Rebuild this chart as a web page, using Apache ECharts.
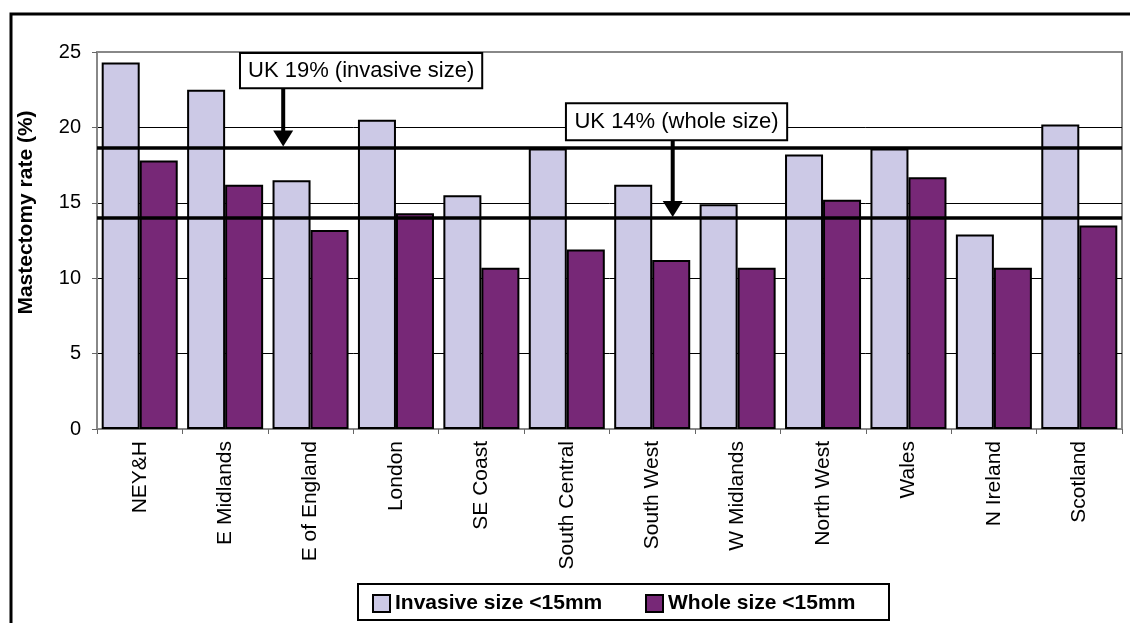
<!DOCTYPE html>
<html>
<head>
<meta charset="utf-8">
<script src="https://cdn.jsdelivr.net/npm/echarts@6/dist/echarts.min.js"></script>
<style>
html,body{margin:0;padding:0;background:#fff;}
#chart{width:1130px;height:623px;}
</style>
</head>
<body>
<div id="chart"></div>
<script>
const categories = ['NEY&H','E Midlands','E of England','London','SE Coast','South Central','South West','W Midlands','North West','Wales','N Ireland','Scotland'];
const invasiveSize = [24.3,22.5,16.5,20.5,15.5,18.6,16.2,14.9,18.2,18.6,12.9,20.2];
const wholeSize = [17.8,16.2,13.2,14.3,10.7,11.9,11.2,10.7,15.2,16.7,10.7,13.5];
const seriesNames = ['Invasive size <15mm','Whole size <15mm'];
const ukInvasive = 18.67;
const ukWhole = 14.0;
const annotations = ['UK 19% (invasive size)','UK 14% (whole size)'];
const yTicks = [0,5,10,15,20,25];

const FONT = 'Liberation Sans, Arial, sans-serif';
const chart = echarts.init(document.getElementById('chart'), null, {renderer:'canvas'});

function legendAt(left, name){
  return {
    left:left, top:593, padding:0,
    itemWidth:17, itemHeight:17, itemGap:4,
    icon:'rect', data:[name],
    textStyle:{fontFamily:FONT,fontSize:21,fontWeight:'bold',color:'#000'}
  };
}

const option = {
  animation:false,
  backgroundColor:'#fff',
  grid:{left:97,right:8,top:52,bottom:194,show:true,borderColor:'#888',borderWidth:2,backgroundColor:'transparent'},
  legend:[legendAt(372, seriesNames[0]), legendAt(645, seriesNames[1])],
  xAxis:{
    type:'category',
    data:categories,
    axisLine:{lineStyle:{color:'#888',width:1}},
    axisTick:{show:true,length:5,lineStyle:{color:'#666'}},
    axisLabel:{rotate:90,margin:12,fontFamily:FONT,fontSize:21,color:'#000'}
  },
  yAxis:{
    type:'value',
    min:0,max:25,interval:5,
    name:'Mastectomy rate (%)',
    nameLocation:'middle',
    nameGap:60,
    nameTextStyle:{fontFamily:FONT,fontSize:21,fontWeight:'bold',color:'#000',padding:[0,0,0,56]},
    axisLine:{show:true,lineStyle:{color:'#888',width:1}},
    axisTick:{show:true,length:5,lineStyle:{color:'#666'}},
    axisLabel:{fontFamily:FONT,fontSize:20,color:'#000',margin:16,
      formatter:function(v){return yTicks.indexOf(v)>=0?String(v):'';}},
    splitLine:{show:true,showMinLine:false,showMaxLine:false,lineStyle:{color:'#000',width:1}}
  },
  series:[
    {
      name:seriesNames[0], type:'bar', data:invasiveSize,
      barGap:'0%', barCategoryGap:'11%',
      itemStyle:{color:'#CCC9E6',borderColor:'#000',borderWidth:2}
    },
    {
      name:seriesNames[1], type:'bar', data:wholeSize,
      barGap:'0%', barCategoryGap:'11%',
      itemStyle:{color:'#772877',borderColor:'#000',borderWidth:2},
      markLine:{
        silent:true, symbol:['none','none'],
        label:{show:false},
        lineStyle:{color:'#000',width:3.5,type:'solid'},
        data:[{yAxis:ukInvasive},{yAxis:ukWhole}]
      }
    }
  ]
};
chart.setOption(option);

// annotation boxes and arrows positioned through the chart's own scales
function px(catFrac, val){
  const rect = chart.getModel().getComponent('grid').coordinateSystem.getRect();
  const x = rect.x + rect.width * catFrac / categories.length;
  const y = chart.convertToPixel({yAxisIndex:0}, val);
  return [x,y];
}
function arrow(x, y0, y1){
  return [
    {type:'line',shape:{x1:x,y1:y0,x2:x,y2:y1-14},style:{stroke:'#000',lineWidth:4},z:100},
    {type:'polygon',shape:{points:[[x-10,y1-16],[x+10,y1-16],[x,y1]]},style:{fill:'#000'},z:100}
  ];
}
function box(x1,y1,x2,y2,text){
  return [
    {type:'rect',shape:{x:x1,y:y1,width:x2-x1,height:y2-y1},style:{fill:'#fff',stroke:'#000',lineWidth:2},z:100},
    {type:'text',x:(x1+x2)/2,y:(y1+y2)/2,style:{text:text,font:'22px '+FONT,fill:'#000',align:'center',verticalAlign:'middle'},z:101}
  ];
}
const a1 = px(2.18, ukInvasive);
const a2 = px(6.74, ukWhole);
const b1 = [px(1.674,24.93), px(4.51,22.6)];
const b2 = [px(5.49,21.6), px(8.08,19.15)];
let g = [];
g = g.concat(arrow(a1[0], b1[1][1], a1[1]-1));
g = g.concat(arrow(a2[0], b2[1][1], a2[1]-1));
g = g.concat(box(b1[0][0],b1[0][1],b1[1][0],b1[1][1],annotations[0]));
g = g.concat(box(b2[0][0],b2[0][1],b2[1][0],b2[1][1],annotations[1]));
// legend frame
g.push({type:'rect',shape:{x:358,y:584,width:531,height:36},style:{fill:null,stroke:'#000',lineWidth:2},z:100});
// outer frame
g.push({type:'polyline',shape:{points:[[11,623],[11,14],[1130,14]]},style:{stroke:'#000',lineWidth:3,fill:null},z:100});
chart.setOption({graphic:g});
</script>
</body>
</html>
